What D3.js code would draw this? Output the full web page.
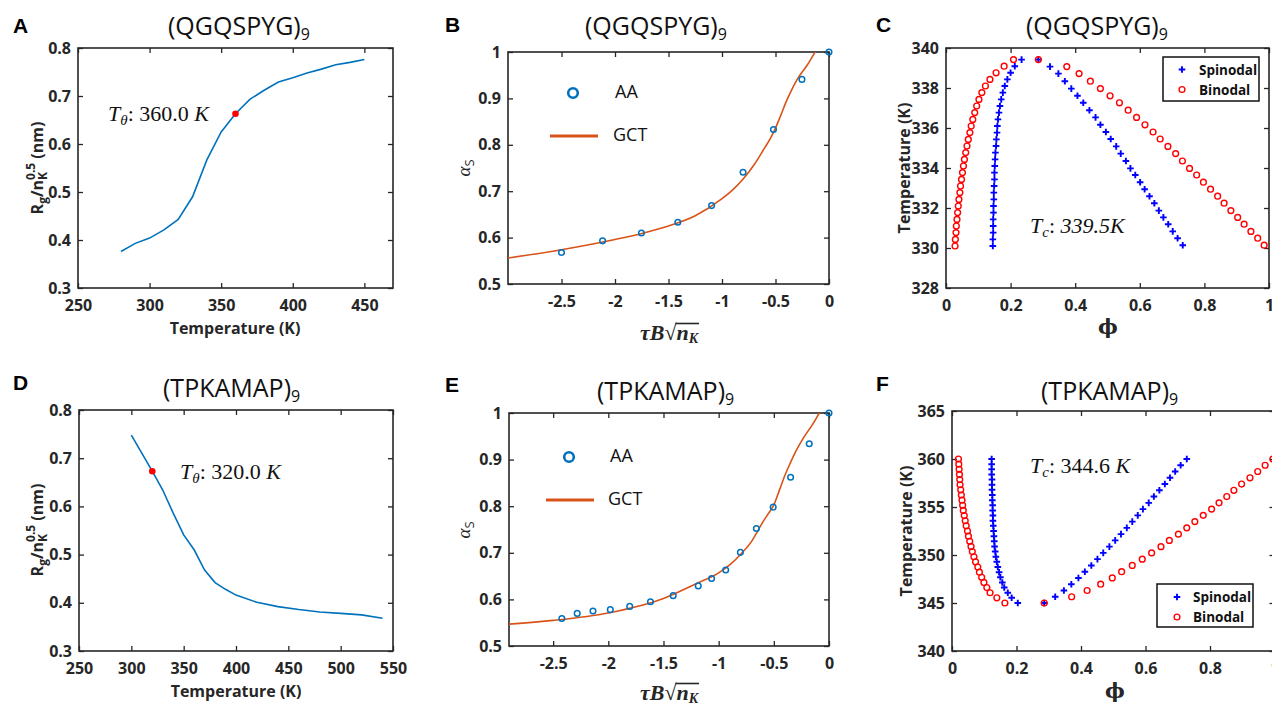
<!DOCTYPE html>
<html><head><meta charset="utf-8">
<script src="https://cdn.jsdelivr.net/npm/d3@7"></script>
<style>body{margin:0;background:#fff}svg{display:block}</style>
</head><body>
<svg id="c" width="1272" height="706"></svg>
<script>
// ---------- data ----------
const tempA = [280,290,300,310,320,330,340,350,360,370,380,390,400,410,420,430,440,450];
const rgA   = [0.376,0.393,0.404,0.421,0.443,0.490,0.567,0.625,0.663,0.693,0.712,0.729,0.738,0.748,0.756,0.765,0.770,0.776];
const thetaA = {t:360, v:0.663};

const tempD = [300,320,330,340,350,360,370,380,390,400,420,440,460,480,500,520,540];
const rgD   = [0.748,0.673,0.634,0.586,0.541,0.510,0.468,0.442,0.428,0.416,0.401,0.392,0.386,0.381,0.378,0.375,0.368];
const thetaD = {t:320, v:0.673};

const aaBx = [-2.5,-2.116,-1.753,-1.413,-1.097,-0.803,-0.519,-0.253,0];
const aaBy = [0.568,0.593,0.610,0.633,0.669,0.741,0.833,0.941,1.0];
const gctBx = [-3,-2.5,-2,-1.75,-1.5,-1.25,-1,-0.9,-0.8,-0.7,-0.6,-0.55,-0.5,-0.45,-0.4,-0.35,-0.3,-0.2,-0.13,0];
const gctBy = [0.556,0.574,0.596,0.609,0.625,0.647,0.684,0.703,0.727,0.757,0.794,0.813,0.836,0.864,0.893,0.918,0.940,0.973,1.0,1.05];

const aaEx = [-2.421,-2.282,-2.139,-1.982,-1.806,-1.618,-1.412,-1.185,-1.064,-0.936,-0.803,-0.658,-0.506,-0.348,-0.179,0];
const aaEy = [0.559,0.570,0.575,0.578,0.585,0.595,0.608,0.629,0.645,0.663,0.701,0.752,0.798,0.862,0.934,1.0];
const gctEx = [-2.9,-2.5,-2,-1.5,-1.2,-1,-0.9,-0.8,-0.7,-0.65,-0.6,-0.55,-0.5,-0.45,-0.4,-0.35,-0.3,-0.233,-0.15,-0.088,0];
const gctEy = [0.547,0.555,0.571,0.602,0.634,0.657,0.674,0.697,0.725,0.745,0.766,0.784,0.803,0.834,0.866,0.893,0.918,0.946,0.975,1.0,1.035];

// panel C (QGQSPYG) phase diagram
const tempCLeft = [330.10,330.43,330.77,331.10,331.43,331.77,332.10,332.43,332.77,333.10,333.43,333.77,334.10,334.43,334.77,335.10,335.43,335.77,336.10,336.43,336.77,337.10,337.43,337.77,338.10,338.43,338.76,339.09,339.42];
const binCLeft  = [0.028,0.029,0.031,0.032,0.034,0.036,0.038,0.040,0.043,0.045,0.048,0.051,0.054,0.057,0.061,0.065,0.069,0.074,0.078,0.083,0.089,0.095,0.102,0.111,0.122,0.136,0.155,0.180,0.209];
const spinCLeft = [0.145,0.145,0.146,0.146,0.146,0.147,0.147,0.148,0.148,0.149,0.150,0.150,0.151,0.152,0.153,0.155,0.156,0.158,0.159,0.161,0.164,0.167,0.171,0.176,0.182,0.190,0.200,0.213,0.234];
const tempCRight = [339.42,339.07,338.72,338.34,337.97,337.61,337.26,336.89,336.53,336.16,335.80,335.45,335.08,334.72,334.35,333.98,333.65,333.29,332.94,332.59,332.24,331.87,331.53,331.19,330.83,330.49,330.14];
const binCRight  = [0.286,0.374,0.412,0.447,0.478,0.508,0.537,0.564,0.590,0.616,0.641,0.663,0.687,0.711,0.732,0.754,0.776,0.797,0.819,0.841,0.861,0.882,0.903,0.923,0.944,0.965,0.985];
const spinCRight = [0.286,0.322,0.348,0.368,0.388,0.407,0.425,0.444,0.463,0.478,0.495,0.510,0.527,0.541,0.557,0.571,0.586,0.601,0.615,0.630,0.645,0.659,0.673,0.688,0.702,0.717,0.733];

// panel F (TPKAMAP) phase diagram
const tempFLeft = [345.00,345.54,346.07,346.61,347.14,347.68,348.21,348.75,349.29,349.82,350.36,350.89,351.43,351.96,352.50,353.04,353.57,354.11,354.64,355.18,355.71,356.25,356.79,357.32,357.86,358.39,358.93,359.46,360.00];
const binFLeft  = [0.164,0.139,0.118,0.108,0.099,0.092,0.085,0.080,0.073,0.068,0.063,0.059,0.055,0.051,0.048,0.044,0.041,0.038,0.035,0.033,0.031,0.029,0.027,0.025,0.024,0.023,0.022,0.021,0.020];
const spinFLeft = [0.204,0.185,0.173,0.162,0.156,0.150,0.146,0.142,0.139,0.136,0.134,0.132,0.131,0.130,0.129,0.128,0.127,0.127,0.126,0.126,0.125,0.125,0.124,0.124,0.124,0.123,0.123,0.123,0.123];
const tempFRight = [345.00,345.65,346.30,346.96,347.61,348.26,348.91,349.57,350.22,350.87,351.52,352.17,352.83,353.48,354.13,354.78,355.43,356.09,356.74,357.39,358.04,358.70,359.35,360.00];
const binFRight  = [0.286,0.371,0.419,0.461,0.497,0.526,0.559,0.590,0.619,0.648,0.674,0.702,0.728,0.753,0.779,0.805,0.828,0.852,0.874,0.898,0.924,0.948,0.971,0.995];
const spinFRight = [0.286,0.320,0.347,0.370,0.392,0.412,0.432,0.451,0.469,0.488,0.506,0.524,0.542,0.559,0.576,0.592,0.610,0.626,0.643,0.660,0.676,0.692,0.709,0.728];

// ticks
const ticksTempA = [250,300,350,400,450];
const ticksTempD = [250,300,350,400,450,500,550];
const ticksRg = [0.3,0.4,0.5,0.6,0.7,0.8];
const ticksTau = [-2.5,-2,-1.5,-1,-0.5,0];
const ticksAlpha = [0.5,0.6,0.7,0.8,0.9,1];
const ticksPhi = [0,0.2,0.4,0.6,0.8,1];
const ticksTC = [328,330,332,334,336,338,340];
const ticksTF = [340,345,350,355,360,365];

// ---------- drawing ----------
const svg = d3.select('#c');
const INK = '#262626';
const SANS = '"Open Sans","Noto Sans",sans-serif';
const SERIF = '"Liberation Serif","DejaVu Serif",serif';
const BLUE = '#0072BD', ORANGE = '#D95319';
const TL = 5;

function panel(o){
  const x = d3.scaleLinear().domain(o.xd).range([o.l, o.r]);
  const y = d3.scaleLinear().domain(o.yd).range([o.b, o.t]);
  const g = svg.append('g');
  const fmt = d => String(d);
  const styleAxis = sel => {
    sel.select('.domain').remove();
    sel.selectAll('line').attr('stroke', INK).attr('stroke-width', 1.3);
    sel.selectAll('text').attr('fill', INK).attr('font-family', SANS).attr('font-weight', 700).attr('font-size', 16);
  };
  g.append('g').attr('transform', `translate(0,${o.b})`)
    .call(d3.axisBottom(x).tickValues(o.xt).tickSize(-TL).tickPadding(12).tickFormat(fmt)).call(styleAxis);
  g.append('g').attr('transform', `translate(0,${o.t})`)
    .call(d3.axisTop(x).tickValues(o.xt).tickSize(-TL).tickFormat('')).call(styleAxis);
  g.append('g').attr('transform', `translate(${o.l},0)`)
    .call(d3.axisLeft(y).tickValues(o.yt).tickSize(-TL).tickPadding(7).tickFormat(fmt)).call(styleAxis);
  g.append('g').attr('transform', `translate(${o.r},0)`)
    .call(d3.axisRight(y).tickValues(o.yt).tickSize(-TL).tickFormat('')).call(styleAxis);
  g.append('rect').attr('x', o.l).attr('y', o.t).attr('width', o.r - o.l).attr('height', o.b - o.t)
    .attr('fill', 'none').attr('stroke', INK).attr('stroke-width', 1.6);
  const cid = 'clip' + o.name;
  svg.append('clipPath').attr('id', cid).append('rect')
    .attr('x', o.l).attr('y', o.t).attr('width', o.r - o.l).attr('height', o.b - o.t);
  svg.append('text').attr('x', o.letter[0]).attr('y', o.letter[1]).text(o.name)
    .attr('font-family', '"Liberation Sans",Arial,sans-serif').attr('font-weight', 700).attr('font-size', 21).attr('fill', '#000');
  const tt = svg.append('text').attr('x', o.title[0]).attr('y', o.title[1])
    .attr('font-family', SANS).attr('font-size', 25).attr('fill', '#111');
  tt.append('tspan').text(o.title[2]);
  tt.append('tspan').attr('font-size', 16).attr('dy', 5).text('9');
  return {x, y, cid};
}

function tempXLabel(cx, by){
  svg.append('text').attr('x', cx).attr('y', by).attr('text-anchor', 'middle')
    .attr('font-family', SANS).attr('font-weight', 700).attr('font-size', 16).attr('fill', INK)
    .text('Temperature (K)');
}
function tempYLabel(bx, cy){
  svg.append('text').attr('transform', `translate(${bx},${cy}) rotate(-90)`).attr('text-anchor', 'middle')
    .attr('font-family', SANS).attr('font-weight', 700).attr('font-size', 16).attr('fill', INK)
    .text('Temperature (K)');
}
function rgYLabel(bx, cy){
  const t = svg.append('text').attr('transform', `translate(${bx},${cy}) rotate(-90)`).attr('text-anchor', 'middle')
    .attr('font-family', SANS).attr('font-weight', 700).attr('font-size', 16).attr('fill', INK);
  t.append('tspan').text('R');
  t.append('tspan').attr('font-size', 12).attr('dy', 4).text('g');
  t.append('tspan').attr('dy', -4).text('/n');
  t.append('tspan').attr('font-size', 12).attr('dy', 4).text('K');
  t.append('tspan').attr('font-size', 12).attr('dx', -8).attr('dy', -12).text('0.5');
  t.append('tspan').attr('dy', 8).text(' (nm)');
}
function alphaYLabel(bx, cy){
  const t = svg.append('text').attr('transform', `translate(${bx},${cy}) rotate(-90)`).attr('text-anchor', 'middle')
    .attr('fill', INK);
  t.append('tspan').attr('font-family', SERIF).attr('font-style', 'italic').attr('font-size', 19).text('α');
  t.append('tspan').attr('font-family', SANS).attr('font-size', 13).attr('dy', 4).text('S');
}
function sqrtXLabel(cx, base){
  const g = svg.append('g').attr('font-family', SERIF).attr('font-weight', 700).attr('fill', INK);
  const t1 = g.append('text').attr('font-style', 'italic').attr('font-size', 22).text('τB');
  const t2 = g.append('text').attr('font-size', 22).text('√');
  const t3 = g.append('text').attr('font-style', 'italic').attr('font-size', 22).text('n');
  const t4 = g.append('text').attr('font-style', 'italic').attr('font-size', 14).text('K');
  const w = [t1, t2, t3, t4].map(t => t.node().getComputedTextLength());
  let x0 = cx - d3.sum(w) / 2;
  t1.attr('x', x0).attr('y', base); x0 += w[0];
  t2.attr('x', x0).attr('y', base); x0 += w[1];
  const nx = x0;
  t3.attr('x', x0).attr('y', base); x0 += w[2];
  t4.attr('x', x0).attr('y', base + 3); x0 += w[3];
  g.append('line').attr('x1', nx - 1).attr('x2', x0 + 1).attr('y1', base - 16.5).attr('y2', base - 16.5)
    .attr('stroke', INK).attr('stroke-width', 1.6);
}
function phiXLabel(cx, base){
  svg.append('text').attr('x', cx).attr('y', base).attr('text-anchor', 'middle')
    .attr('font-family', '"DejaVu Serif",serif').attr('font-weight', 700).attr('font-size', 21).attr('fill', INK)
    .text('ϕ');
}
function thetaNote(x, y, val){
  const t = svg.append('text').attr('x', x).attr('y', y).attr('font-family', SERIF).attr('font-size', 22).attr('fill', '#111');
  t.append('tspan').attr('font-style', 'italic').text('T');
  t.append('tspan').attr('font-style', 'italic').attr('font-size', 15).attr('dy', 4).text('θ');
  t.append('tspan').attr('dy', -4).text(': ' + val + ' ');
  t.append('tspan').attr('font-style', 'italic').text('K');
}
function tcNote(x, y, val, italicNum, sp){
  const t = svg.append('text').attr('x', x).attr('y', y).attr('font-family', SERIF).attr('font-size', 22).attr('fill', '#111');
  t.append('tspan').attr('font-style', 'italic').text('T');
  t.append('tspan').attr('font-style', 'italic').attr('font-size', 15).attr('dy', 4).text('c');
  t.append('tspan').attr('dy', -4).text(': ');
  t.append('tspan').attr('font-style', italicNum ? 'italic' : 'normal').text(val + sp);
  t.append('tspan').attr('font-style', 'italic').text('K');
}
function plus(g, cx, cy){
  g.append('path').attr('d', `M${cx-3.3},${cy}H${cx+3.3}M${cx},${cy-3.3}V${cy+3.3}`)
    .attr('stroke', '#0000FF').attr('stroke-width', 1.9).attr('fill', 'none');
}
function ring(g, cx, cy, col, r, sw){
  g.append('circle').attr('cx', cx).attr('cy', cy).attr('r', r).attr('fill', 'none')
    .attr('stroke', col).attr('stroke-width', sw);
}

// ----- Panel A -----
{
  const p = panel({name:'A', l:78, r:393, t:48, b:288, xd:[250,470], yd:[0.3,0.8], xt:ticksTempA, yt:ticksRg,
    letter:[13,33], title:[168,35,'(QGQSPYG)']});
  const line = d3.line().x((d,i) => p.x(tempA[i])).y(d => p.y(d));
  svg.append('path').datum(rgA).attr('d', line).attr('fill', 'none').attr('stroke', BLUE).attr('stroke-width', 1.6)
    .attr('clip-path', `url(#${p.cid})`);
  svg.append('circle').attr('cx', p.x(thetaA.t)).attr('cy', p.y(thetaA.v)).attr('r', 3.3).attr('fill', '#FF0000');
  thetaNote(108, 121, '360.0');
  tempXLabel(235, 334);
  rgYLabel(43, 168);
}
// ----- Panel D -----
{
  const p = panel({name:'D', l:79, r:393, t:410, b:651, xd:[250,550], yd:[0.3,0.8], xt:ticksTempD, yt:ticksRg,
    letter:[13,390], title:[163,397,'(TPKAMAP)']});
  const line = d3.line().x((d,i) => p.x(tempD[i])).y(d => p.y(d));
  svg.append('path').datum(rgD).attr('d', line).attr('fill', 'none').attr('stroke', BLUE).attr('stroke-width', 1.6)
    .attr('clip-path', `url(#${p.cid})`);
  svg.append('circle').attr('cx', p.x(thetaD.t)).attr('cy', p.y(thetaD.v)).attr('r', 3.3).attr('fill', '#FF0000');
  thetaNote(180, 479, '320.0');
  tempXLabel(236, 697);
  rgYLabel(43, 530);
}
// ----- Panel B -----
{
  const p = panel({name:'B', l:508, r:829, t:52, b:284, xd:[-3,0], yd:[0.5,1], xt:ticksTau, yt:ticksAlpha,
    letter:[445,32], title:[585,35,'(QGQSPYG)']});
  const line = d3.line().curve(d3.curveMonotoneX).x((d,i) => p.x(gctBx[i])).y(d => p.y(d));
  svg.append('path').datum(gctBy).attr('d', line).attr('fill', 'none').attr('stroke', ORANGE).attr('stroke-width', 1.6)
    .attr('clip-path', `url(#${p.cid})`);
  const g = svg.append('g');
  aaBy.forEach((v,i) => ring(g, p.x(aaBx[i]), p.y(v), BLUE, 2.8, 1.5));
  ring(svg, 573, 93, BLUE, 4.8, 2.6);
  svg.append('text').attr('x', 615).attr('y', 98).attr('font-family', SANS).attr('font-size', 18).attr('fill', '#111').text('AA');
  svg.append('line').attr('x1', 550).attr('x2', 598).attr('y1', 136).attr('y2', 136).attr('stroke', ORANGE).attr('stroke-width', 3);
  svg.append('text').attr('x', 613).attr('y', 141).attr('font-family', SANS).attr('font-size', 18).attr('fill', '#111').text('GCT');
  sqrtXLabel(669, 340);
  alphaYLabel(470, 168);
}
// ----- Panel E -----
{
  const p = panel({name:'E', l:509, r:829, t:413, b:646, xd:[-2.9,0], yd:[0.5,1], xt:ticksTau, yt:ticksAlpha,
    letter:[445,392], title:[597,400,'(TPKAMAP)']});
  const line = d3.line().curve(d3.curveMonotoneX).x((d,i) => p.x(gctEx[i])).y(d => p.y(d));
  svg.append('path').datum(gctEy).attr('d', line).attr('fill', 'none').attr('stroke', ORANGE).attr('stroke-width', 1.6)
    .attr('clip-path', `url(#${p.cid})`);
  const g = svg.append('g');
  aaEy.forEach((v,i) => ring(g, p.x(aaEx[i]), p.y(v), BLUE, 2.8, 1.5));
  ring(svg, 569, 457, BLUE, 4.8, 2.6);
  svg.append('text').attr('x', 610).attr('y', 462).attr('font-family', SANS).attr('font-size', 18).attr('fill', '#111').text('AA');
  svg.append('line').attr('x1', 546).attr('x2', 594).attr('y1', 500).attr('y2', 500).attr('stroke', ORANGE).attr('stroke-width', 3);
  svg.append('text').attr('x', 608).attr('y', 505).attr('font-family', SANS).attr('font-size', 18).attr('fill', '#111').text('GCT');
  sqrtXLabel(669, 700);
  alphaYLabel(470, 530);
}
// ----- Panel C -----
{
  const p = panel({name:'C', l:946, r:1269, t:48, b:288, xd:[0,1], yd:[328,340], xt:ticksPhi, yt:ticksTC,
    letter:[876,32], title:[1026,35,'(QGQSPYG)']});
  const g = svg.append('g');
  spinCLeft.forEach((v,i) => plus(g, p.x(v), p.y(tempCLeft[i])));
  spinCRight.forEach((v,i) => plus(g, p.x(v), p.y(tempCRight[i])));
  binCLeft.forEach((v,i) => ring(g, p.x(v), p.y(tempCLeft[i]), '#FF0000', 2.9, 1.4));
  binCRight.forEach((v,i) => ring(g, p.x(v), p.y(tempCRight[i]), '#FF0000', 2.9, 1.4));
  svg.append('rect').attr('x', 1163).attr('y', 57).attr('width', 96).attr('height', 44)
    .attr('fill', '#fff').attr('stroke', '#111').attr('stroke-width', 1.5);
  plus(svg, 1182, 69.5);
  ring(svg, 1182, 89.5, '#FF0000', 2.9, 1.4);
  svg.append('text').attr('x', 1199).attr('y', 74.5).attr('font-family', SANS).attr('font-weight', 700).attr('font-size', 13.5).attr('fill', '#111').text('Spinodal');
  svg.append('text').attr('x', 1199).attr('y', 94.5).attr('font-family', SANS).attr('font-weight', 700).attr('font-size', 13.5).attr('fill', '#111').text('Binodal');
  tcNote(1030, 233, '339.5', true, '');
  phiXLabel(1108, 334);
  tempYLabel(910, 168);
}
// ----- Panel F -----
{
  const p = panel({name:'F', l:952, r:1274.5, t:411, b:651, xd:[0,1], yd:[340,365], xt:ticksPhi, yt:ticksTF,
    letter:[876,391], title:[1041,400,'(TPKAMAP)']});
  const g = svg.append('g');
  spinFLeft.forEach((v,i) => plus(g, p.x(v), p.y(tempFLeft[i])));
  spinFRight.forEach((v,i) => plus(g, p.x(v), p.y(tempFRight[i])));
  binFLeft.forEach((v,i) => ring(g, p.x(v), p.y(tempFLeft[i]), '#FF0000', 2.9, 1.4));
  binFRight.forEach((v,i) => ring(g, p.x(v), p.y(tempFRight[i]), '#FF0000', 2.9, 1.4));
  svg.append('rect').attr('x', 1157).attr('y', 584).attr('width', 96).attr('height', 43)
    .attr('fill', '#fff').attr('stroke', '#111').attr('stroke-width', 1.5);
  plus(svg, 1177, 597);
  ring(svg, 1177, 617, '#FF0000', 2.9, 1.4);
  svg.append('text').attr('x', 1193).attr('y', 602).attr('font-family', SANS).attr('font-weight', 700).attr('font-size', 13.5).attr('fill', '#111').text('Spinodal');
  svg.append('text').attr('x', 1193).attr('y', 622).attr('font-family', SANS).attr('font-weight', 700).attr('font-size', 13.5).attr('fill', '#111').text('Binodal');
  tcNote(1030, 473, '344.6', false, ' ');
  phiXLabel(1115, 698);
  tempYLabel(912, 531);
}
</script>
</body></html>
